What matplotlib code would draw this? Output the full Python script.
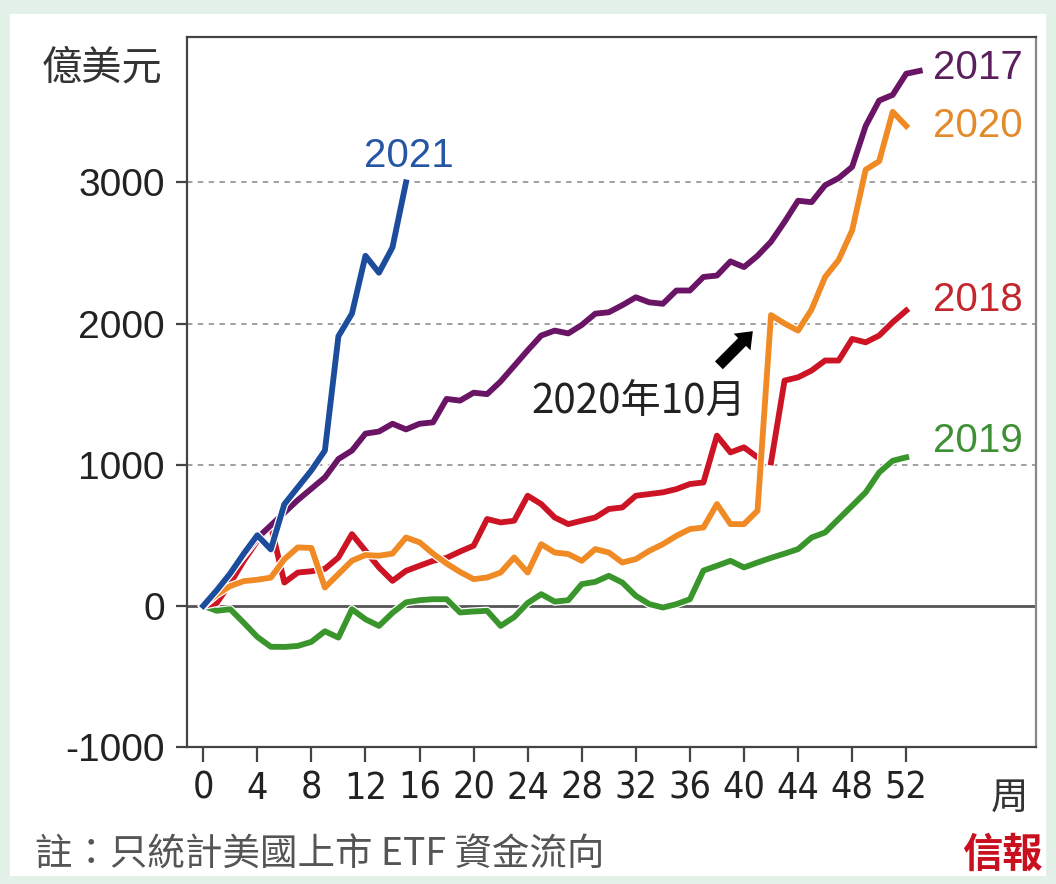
import numpy as np
import matplotlib
matplotlib.use("Agg")
import matplotlib.pyplot as plt
import matplotlib.patheffects as pe
from matplotlib.patches import Rectangle

# weekly cumulative US-listed ETF flows, in 100m USD (億美元)
weeks_2017 = np.arange(54)
flow_2017 = [0, 120, 240, 360, 480, 570, 660, 750, 830, 910, 1040, 1100, 1220, 1235,
             1290, 1250, 1290, 1300, 1466, 1454, 1510, 1500, 1590, 1700, 1810, 1915,
             1950, 1930, 1990, 2070, 2080, 2130, 2186, 2150, 2140, 2234, 2234, 2330,
             2340, 2440, 2400, 2480, 2580, 2720, 2870, 2860, 2980, 3030, 3110, 3400,
             3580, 3620, 3770, 3790]

weeks = np.arange(53)
flow_2018 = [0, 20, 160, 320, 460, 570, 165, 236, 245, 262, 343, 508, 390, 272, 177,
             248, 284, 319, 340, 385, 426, 615, 591, 603, 780, 721, 626, 579, 603, 626,
             686, 697, 780, 792, 804, 827, 863, 874, 1206, 1087, 1123, 1052, 1016, 1596,
             1619, 1667, 1738, 1738, 1891, 1867, 1915, 2009, 2092]
flow_2019 = [0, -35, -24, -120, -220, -290, -291, -284, -255, -180, -225, -24, -95,
             -142, -50, 25, 40, 47, 47, -47, -40, -35, -142, -80, 20, 83, 30, 40, 154,
             170, 213, 165, 71, 12, -12, 12, 47, 250, 284, 319, 272, 307, 340, 370, 402,
             484, 520, 615, 709, 804, 945, 1028, 1052]
flow_2020 = [0, 80, 140, 175, 185, 200, 330, 414, 410, 130, 225, 320, 360, 355, 370,
             484, 450, 370, 300, 240, 189, 201, 236, 343, 236, 437, 378, 367, 319, 402,
             378, 307, 331, 390, 437, 496, 544, 555, 721, 579, 579, 674, 2060, 2000,
             1950, 2100, 2330, 2450, 2660, 3090, 3150, 3500, 3400]

weeks_2021 = np.arange(16)
flow_2021 = [0, 110, 230, 370, 500, 400, 720, 840, 960, 1100, 1910, 2070, 2480, 2360,
             2540, 3000]

x_ticks = list(range(0, 53, 4))
y_ticks = [-1000, 0, 1000, 2000, 3000]

c2017 = "#6a1466"
c2018 = "#cc1424"
c2019 = "#3a962c"
c2020 = "#f08a24"
c2021 = "#1c4c9c"

plt.rcParams["axes.unicode_minus"] = False

cjk = ["Noto Sans CJK TC", "DejaVu Sans"]
num = ["Liberation Sans", "DejaVu Sans"]

fig = plt.figure(figsize=(10.56, 8.84), dpi=100, facecolor="#e4f1e8")
fig.patches.append(Rectangle((10 / 1056, 8 / 884), 1036 / 1056, 862 / 884,
                             transform=fig.transFigure, facecolor="white",
                             edgecolor="none", zorder=-5))

ax = fig.add_axes([187 / 1056, 1 - 747 / 884, 849 / 1056, 710 / 884])
ax.set_facecolor("white")
ax.set_xlim(-1.2, 61.6)
ax.set_ylim(-1000, 4030)

for v in [1000, 2000, 3000]:
    ax.axhline(v, color="#999999", lw=1.3, ls=(0, (3, 3)), zorder=1)
ax.axhline(0, color="#555555", lw=2, zorder=1)

halo = [pe.Stroke(linewidth=6.0, foreground="white"), pe.Normal()]
lw = 4.2
ax.plot(weeks, flow_2019, color=c2019, lw=lw, zorder=3, path_effects=halo,
        solid_joinstyle="round")
ax.plot(weeks[:42], flow_2018[:42], color=c2018, lw=lw, zorder=4, path_effects=halo,
        solid_joinstyle="round")
ax.plot(weeks[42:], flow_2018[42:], color=c2018, lw=lw, zorder=4, path_effects=halo,
        solid_joinstyle="round")
ax.plot(weeks, flow_2020, color=c2020, lw=lw, zorder=5, path_effects=halo,
        solid_joinstyle="round")
ax.plot(weeks_2017, flow_2017, color=c2017, lw=lw, zorder=6, path_effects=halo,
        solid_joinstyle="round")
ax.plot(weeks_2021, flow_2021, color=c2021, lw=lw, zorder=7, path_effects=halo,
        solid_joinstyle="round")

# year labels
ax.text(11.9, 3190, "2021", color="#2556a3", fontsize=29, family=num, va="center")
ax.text(54.0, 3810, "2017", color="#5a1f5c", fontsize=29, family=num, va="center")
ax.text(54.0, 3400, "2020", color="#e38a2d", fontsize=29, family=num, va="center")
ax.text(54.0, 2165, "2018", color="#c4262e", fontsize=29, family=num, va="center")
ax.text(54.0, 1170, "2019", color="#3f8f35", fontsize=29, family=num, va="center")

ax.text(32.2, 1450, "2020年10月", fontsize=29, family=cjk, color="#222222",
        ha="center", va="center")
ax.annotate("", xy=(40.8, 1960), xytext=(38.0, 1690),
            arrowprops=dict(arrowstyle="simple,head_width=1.7,head_length=1.1,tail_width=0.8",
                            color="black", lw=0))

for s in ax.spines.values():
    s.set_color("#444444")
    s.set_linewidth(1.6)
ax.spines["right"].set_color("#888888")

ax.set_xticks(x_ticks)
ax.set_yticks(y_ticks)
ax.tick_params(axis="y", direction="out", length=8, width=1.6, color="#444444", pad=8)
ax.tick_params(axis="x", direction="out", length=11, width=1.6, color="#444444", pad=6)
for t in ax.get_yticklabels():
    t.set_fontsize(28)
    t.set_family(num)
    t.set_color("#222222")
for t in ax.get_xticklabels():
    t.set_fontsize(27)
    t.set_family(["DejaVu Sans"])
    t.set_fontstretch("condensed")
    t.set_color("#222222")

fig.text(102 / 1056, 1 - 68 / 884, "億美元", fontsize=29, family=cjk, color="#333333",
         ha="center", va="center")
fig.text(1010 / 1056, 1 - 798 / 884, "周", fontsize=27, family=cjk, color="#333333",
         ha="center", va="center")
fig.text(35 / 1056, 1 - 855 / 884, "註：只統計美國上市 ETF 資金流向", fontsize=27,
         family=cjk, color="#555555", ha="left", va="center")
fig.text(1002 / 1056, 1 - 855 / 884, "信報", fontsize=29, family=cjk, color="#c8101e",
         fontweight="heavy", ha="center", va="center")

fig.savefig("out.png", dpi=100, facecolor=fig.get_facecolor())
